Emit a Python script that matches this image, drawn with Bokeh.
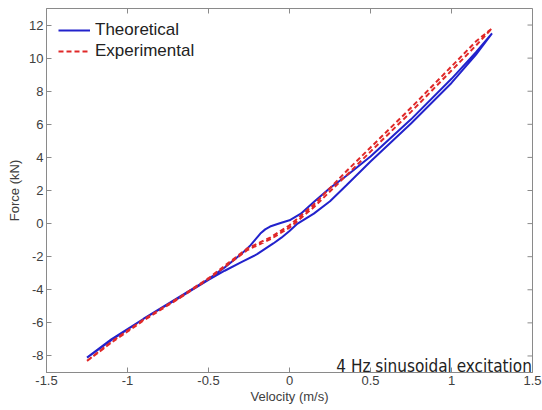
import math
from bokeh.plotting import figure
from bokeh.models import FixedTicker, Range1d, Legend, LegendItem, Label
from bokeh.embed import file_html
from bokeh.resources import INLINE

# Theoretical loop: branch going up (lower) then returning (upper, with bump near zero)
theo_v = [-1.25, -1.1, -0.9, -0.7, -0.5, -0.4, -0.3, -0.2, -0.1, -0.05, 0.0, 0.05, 0.1, 0.15,
          0.25, 0.35, 0.5, 0.75, 1.0, 1.15, 1.25,
          1.15, 1.0, 0.75, 0.5, 0.36, 0.25, 0.15, 0.07, 0.0, -0.06, -0.12, -0.15, -0.18, -0.21,
          -0.24, -0.27, -0.3, -0.4, -0.5, -0.7, -0.9, -1.1, -1.25]
theo_f = [-8.1, -7.05, -5.75, -4.6, -3.4, -2.85, -2.35, -1.85, -1.2, -0.85, -0.45, 0.0, 0.3, 0.6,
          1.35, 2.3, 3.75, 6.05, 8.5, 10.2, 11.5,
          10.35, 8.75, 6.3, 4.05, 2.95, 2.15, 1.3, 0.6, 0.2, 0.02, -0.18, -0.35, -0.6, -0.95,
          -1.3, -1.6, -1.85, -2.65, -3.35, -4.55, -5.75, -7.0, -8.1]

# Experimental loop (narrow)
exp_v = [-1.25, -1.1, -0.9, -0.67, -0.5, -0.26, -0.12, 0.0, 0.15, 0.36, 0.5, 0.75, 1.0, 1.15, 1.25,
         1.15, 1.0, 0.75, 0.5, 0.36, 0.15, 0.0, -0.12, -0.26, -0.5, -0.67, -0.9, -1.1, -1.25]
exp_f = [-8.3, -7.2, -5.85, -4.45, -3.35, -1.6, -0.95, -0.25, 0.99, 3.0, 4.35, 6.75, 9.25, 10.75, 11.8,
         11.0, 9.5, 7.0, 4.6, 3.25, 1.15, -0.1, -0.85, -1.5, -3.3, -4.4, -5.8, -7.15, -8.3]

x_ticks = [-1.5, -1.0, -0.5, 0.0, 0.5, 1.0, 1.5]
y_ticks = [-8, -6, -4, -2, 0, 2, 4, 6, 8, 10, 12]
x_min, x_max = -1.5, 1.5
y_min, y_max = -9, 13

FONT = "Liberation Sans"
GRAY = "#8a8a8a"
TXT = "#404040"

p = figure(width=542, height=410, output_backend="svg", toolbar_location=None,
           x_range=Range1d(x_min, x_max), y_range=Range1d(y_min, y_max),
           min_border_left=46, min_border_right=10, min_border_top=8, min_border_bottom=38,
           x_axis_label="Velocity (m/s)", y_axis_label="Force (kN)")
p.grid.visible = False
p.outline_line_color = GRAY
p.outline_line_width = 1
p.background_fill_color = "white"
p.border_fill_color = "white"

for ax, ticks in ((p.xaxis[0], x_ticks), (p.yaxis[0], y_ticks)):
    ax.ticker = FixedTicker(ticks=ticks)
    ax.major_tick_in = 5
    ax.major_tick_out = 0
    ax.minor_tick_line_color = None
    ax.axis_line_color = GRAY
    ax.major_tick_line_color = GRAY
    ax.major_label_text_font = FONT
    ax.major_label_text_font_size = "13px"
    ax.major_label_text_color = TXT
    ax.axis_label_text_font = FONT
    ax.axis_label_text_font_size = "13px"
    ax.axis_label_text_font_style = "normal"
    ax.axis_label_text_color = TXT
    ax.major_label_standoff = 3
    ax.axis_label_standoff = 4
p.xaxis[0].axis_label_standoff = 1

p.xaxis[0].major_label_overrides = {-1.5: "-1.5", -1.0: "-1", -0.5: "-0.5", 0.0: "0",
                                    0.5: "0.5", 1.0: "1", 1.5: "1.5"}
p.yaxis[0].major_label_overrides = {t: str(t) for t in y_ticks}

# inward ticks on the top and right edges of the box (clipped to the frame)
p.scatter(x=x_ticks, y=[y_max] * len(x_ticks), marker="dash", angle=math.pi / 2, size=10,
          line_color=GRAY, line_width=1)
p.scatter(x=[x_max] * len(y_ticks), y=y_ticks, marker="dash", angle=0, size=10,
          line_color=GRAY, line_width=1)

r_theo = p.line(theo_v, theo_f, line_color="#2222cc", line_width=2)
r_exp = p.line(exp_v, exp_f, line_color="#e02828", line_width=2, line_dash="5 3")

legend = Legend(items=[LegendItem(label="Theoretical", renderers=[r_theo]),
                       LegendItem(label="Experimental", renderers=[r_exp])],
                location="top_left", border_line_color=None, background_fill_alpha=1,
                label_text_font=FONT, label_text_font_size="17px", label_text_color="#222222",
                glyph_width=32, glyph_height=20, label_height=20, spacing=1,
                padding=8, margin=12, label_standoff=5)
p.add_layout(legend)

p.add_layout(Label(x=1.496, y=-8.62, text="4 Hz sinusoidal excitation", text_align="right",
                   text_baseline="alphabetic", text_font_size="17px", text_color="#222222",
                   text_font="DejaVu Sans Condensed, Liberation Sans Narrow, Roboto Condensed, sans-serif"))

open("out.html", "w").write(file_html(p, INLINE))
